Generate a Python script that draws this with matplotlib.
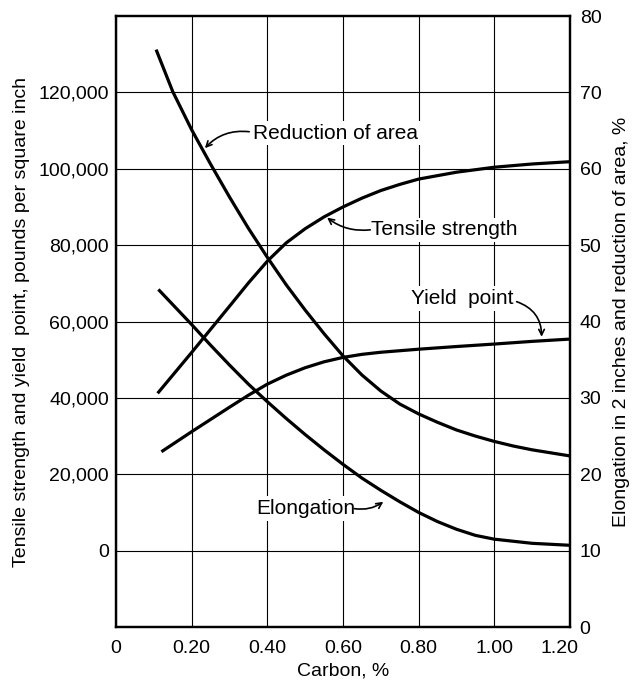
import matplotlib
matplotlib.use('Agg')
import matplotlib.pyplot as plt
import matplotlib.transforms as mtransforms

plt.rcParams['font.family'] = ['Liberation Sans', 'DejaVu Sans']

# 抗拉强度 (psi)
tensile_x = [0.11, 0.2, 0.3, 0.35, 0.4, 0.45, 0.5, 0.55, 0.6, 0.65, 0.7, 0.75, 0.8, 0.9, 1.0, 1.1, 1.2]
tensile = [41200, 51900, 64000, 70100, 75800, 80600, 84300, 87400, 90000, 92300, 94300, 95900,
           97300, 99100, 100400, 101250, 101850]

# 屈服点 (psi)
yield_x = [0.12, 0.2, 0.3, 0.35, 0.4, 0.45, 0.5, 0.55, 0.6, 0.65, 0.7, 0.8, 0.9, 1.0, 1.1, 1.2]
yield_pt = [25900, 31150, 37560, 40700, 43600, 45950, 47900, 49450, 50600, 51400, 51950, 52750,
            53450, 54100, 54800, 55400]

# 伸长率 (%)
elong_x = [0.112, 0.2, 0.25, 0.3, 0.35, 0.4, 0.45, 0.5, 0.55, 0.6, 0.65, 0.7, 0.75, 0.8, 0.85,
           0.9, 0.95, 1.0, 1.1, 1.2]
elong = [44.2, 39.6, 36.9, 34.3, 31.8, 29.5, 27.3, 25.2, 23.2, 21.3, 19.5, 17.9, 16.4, 15.0, 13.8,
         12.8, 12.0, 11.5, 10.96, 10.7]

# 断面收缩率 (%)
red_x = [0.106, 0.15, 0.2, 0.25, 0.3, 0.35, 0.4, 0.45, 0.5, 0.55, 0.6, 0.65, 0.7, 0.75, 0.8,
         0.85, 0.9, 0.95, 1.0, 1.05, 1.1, 1.15, 1.2]
red_area = [75.6, 70.1, 65.1, 60.6, 56.3, 52.2, 48.4, 44.8, 41.5, 38.4, 35.5, 33.0, 30.9, 29.2,
            27.9, 26.8, 25.8, 25.0, 24.3, 23.7, 23.2, 22.8, 22.4]

x_ticks = [0, 0.2, 0.4, 0.6, 0.8, 1.0, 1.2]
x_labels = ['0', '0.20', '0.40', '0.60', '0.80', '1.00', '1.20']
left_ticks = [0, 20000, 40000, 60000, 80000, 100000, 120000]
right_ticks = [0, 10, 20, 30, 40, 50, 60, 70, 80]

fig = plt.figure(figsize=(6.35, 6.84), dpi=100)
ax = fig.add_axes([0.1827, 0.0833, 0.7149, 0.8933])
ax2 = ax.twinx()

ax.set_xlim(0, 1.2)
ax.set_ylim(-20000, 140000)
ax2.set_ylim(0, 80)

ax.set_xticks(x_ticks)
ax.set_xticklabels(x_labels, fontsize=14)
ax.set_yticks(left_ticks)
ax.set_yticklabels(['{:,}'.format(v) for v in left_ticks], fontsize=14)
ax2.set_yticks(right_ticks)
ax2.set_yticklabels([str(v) for v in right_ticks], fontsize=14)
ax.tick_params(axis='both', length=0)
ax.tick_params(axis='x', pad=9)
ax.tick_params(axis='y', pad=5)
ax2.tick_params(axis='y', length=0, pad=7)

# 最后一个x刻度标签稍微左移
lbl = ax.get_xticklabels()[-1]
lbl.set_transform(lbl.get_transform() + mtransforms.ScaledTranslation(-0.1, 0, fig.dpi_scale_trans))

ax.grid(True, color='black', linewidth=0.8)
ax.set_axisbelow(True)

for a in (ax, ax2):
    for s in a.spines.values():
        s.set_linewidth(1.6)

lw = 2.3
ax.plot(tensile_x, tensile, color='black', linewidth=lw, solid_capstyle='butt')
ax.plot(yield_x, yield_pt, color='black', linewidth=lw, solid_capstyle='butt')
ax2.plot(elong_x, elong, color='black', linewidth=lw, solid_capstyle='butt')
ax2.plot(red_x, red_area, color='black', linewidth=lw, solid_capstyle='butt')

ax.set_xlabel('Carbon, %', fontsize=14, labelpad=4)
ax.set_ylabel('Tensile strength and yield  point, pounds per square inch', fontsize=14, labelpad=6)
ax2.set_ylabel('Elongation in 2 inches and reduction of area, %', fontsize=14, labelpad=8)

box = dict(facecolor='white', edgecolor='none', pad=2)
arrow = dict(arrowstyle='->', color='black', lw=1.2, shrinkA=0, shrinkB=0)

ax2.text(0.362, 64.65, 'Reduction of area', fontsize=15, va='center', ha='left', bbox=box)
ax2.annotate('', xy=(0.235, 62.7), xytext=(0.352, 64.85),
             arrowprops=dict(arrow, connectionstyle='arc3,rad=0.25'))

ax2.text(0.675, 52.0, 'Tensile strength', fontsize=15, va='center', ha='left', bbox=box)
ax2.annotate('', xy=(0.558, 53.6), xytext=(0.672, 52.0),
             arrowprops=dict(arrow, connectionstyle='arc3,rad=-0.2'))

ax2.text(0.779, 43.0, 'Yield  point', fontsize=15, va='center', ha='left', bbox=box)
ax2.annotate('', xy=(1.125, 38.0), xytext=(1.059, 42.6),
             arrowprops=dict(arrow, connectionstyle='arc3,rad=-0.35'))

ax2.text(0.372, 15.5, 'Elongation', fontsize=15, va='center', ha='left', bbox=box)
ax2.annotate('', xy=(0.7065, 16.4), xytext=(0.63, 15.5),
             arrowprops=dict(arrow, connectionstyle='arc3,rad=0.2'))

plt.savefig('out.png', dpi=100)
